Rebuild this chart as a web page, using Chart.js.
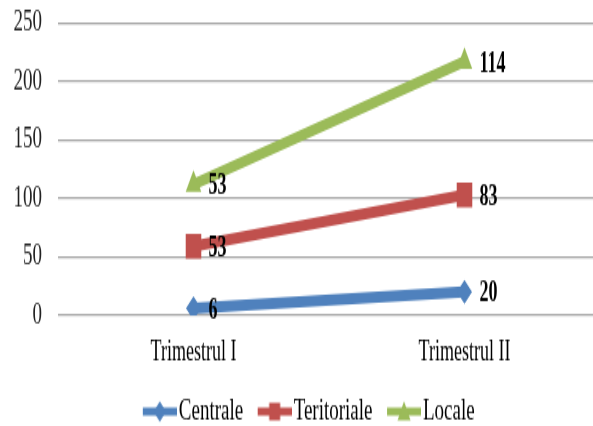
<!DOCTYPE html>
<html lang="ro">
<head>
<meta charset="UTF-8" />
<title>Trimestrul I / II</title>
<style>
  html, body { margin: 0; padding: 0; background: #fff; overflow: hidden; width: 593px; height: 426px; }
  #wrap { width: 593px; height: 266px; transform: scaleY(1.6015); transform-origin: 0 0; }
</style>
</head>
<body>
<div id="wrap"><canvas id="chart" width="593" height="266"></canvas></div>

<script src="https://cdn.jsdelivr.net/npm/chart.js"></script>
<script>
  // date din grafic
  const categories = ["Trimestrul I", "Trimestrul II"];
  const centrale = [6, 20];
  const teritoriale = [53, 83];
  const locale = [53, 114];
  const yTicks = [0, 50, 100, 150, 200, 250];

  const BLUE = "#4f81bd", RED = "#c0504d", GREEN = "#9bbb59";
  const SERIF = "'Liberation Serif', 'Times New Roman', serif";

  // mic desen pentru legenda: linie + marker (cu margine transparenta la stanga)
  function legendIcon(color, style) {
    const c = document.createElement("canvas");
    c.width = 53; c.height = 14;
    const g = c.getContext("2d");
    g.strokeStyle = color; g.fillStyle = color; g.lineWidth = 5;
    g.beginPath(); g.moveTo(19, 7); g.lineTo(53, 7); g.stroke();
    g.beginPath();
    if (style === "rectRot") { g.moveTo(36, 0.5); g.lineTo(42, 7); g.lineTo(36, 13.5); g.lineTo(30, 7); }
    else if (style === "rect") { g.rect(30.5, 1.5, 11, 11); }
    else { g.moveTo(36, 0.5); g.lineTo(42.5, 12.5); g.lineTo(29.5, 12.5); }
    g.closePath(); g.fill();
    return c;
  }

  // etichete cu valorile
  const valueLabels = {
    id: "valueLabels",
    afterDatasetsDraw(chart) {
      const ctx = chart.ctx;
      ctx.save();
      ctx.font = "bold 18px " + SERIF;
      ctx.fillStyle = "#000";
      ctx.textAlign = "left";
      ctx.textBaseline = "middle";
      chart.data.datasets.forEach((ds, i) => {
        chart.getDatasetMeta(i).data.forEach((pt, j) => {
          ctx.fillText(ds.data[j], pt.x + 15, pt.y + 1.5);
        });
      });
      ctx.restore();
    }
  };

  // zona graficului continua putin dincolo de marginea din dreapta (ca in original)
  const widenArea = {
    id: "widenArea",
    afterLayout(chart) {
      const extra = 600 - chart.chartArea.right;
      chart.chartArea.right += extra;
      chart.chartArea.width += extra;
      const x = chart.scales.x;
      x.right += extra; x.width += extra;
      x.configure();
      chart.scales.y.configure();
    }
  };

  function series(label, data, color, style, radius) {
    return {
      label: label,
      data: data,
      borderColor: color,
      backgroundColor: color,
      borderWidth: 7,
      pointStyle: style,
      pointRadius: radius,
      pointHoverRadius: radius,
      pointBorderWidth: 0,
      tension: 0,
      icon: legendIcon(color, style)
    };
  }

  new Chart(document.getElementById("chart"), {
    type: "line",
    data: {
      labels: categories,
      datasets: [
        series("Centrale", centrale, BLUE, "rectRot", 7.5),
        series("Teritoriale", teritoriale, RED, "rect", 11),
        series("Locale", locale, GREEN, "triangle", 9)
      ]
    },
    plugins: [valueLabels, widenArea],
    options: {
      responsive: false,
      animation: false,
      layout: { padding: { top: 14.4, left: 13, right: 0, bottom: -10.5 } },
      scales: {
        x: {
          offset: true,
          afterFit(axis) { axis.paddingLeft = 0; axis.paddingRight = 0; },
          grid: { display: false, drawTicks: false },
          border: { display: false },
          ticks: { color: "#000", padding: 13, font: { family: SERIF, size: 18 } }
        },
        y: {
          stacked: true,
          min: 0, max: 250,
          afterBuildTicks(axis) { axis.ticks = yTicks.map(v => ({ value: v })); },
          afterFit(axis) { axis.width = 45; axis.paddingTop = 0; axis.paddingBottom = 0; },
          grid: { color: "#a6a6a6", lineWidth: 1.3, drawTicks: false },
          border: { display: false },
          ticks: { color: "#222", padding: 16, font: { family: SERIF, size: 19 } }
        }
      },
      plugins: {
        legend: {
          position: "bottom",
          labels: {
            usePointStyle: true,
            pointStyleWidth: 38,
            padding: 3,
            color: "#000",
            font: { family: SERIF, size: 19 },
            generateLabels(chart) {
              return chart.data.datasets.map((ds, i) => ({
                text: ds.label,
                pointStyle: ds.icon,
                fillStyle: ds.borderColor,
                strokeStyle: ds.borderColor,
                lineWidth: 0,
                datasetIndex: i
              }));
            }
          }
        },
        tooltip: { enabled: false }
      }
    }
  });
</script>
</body>
</html>
